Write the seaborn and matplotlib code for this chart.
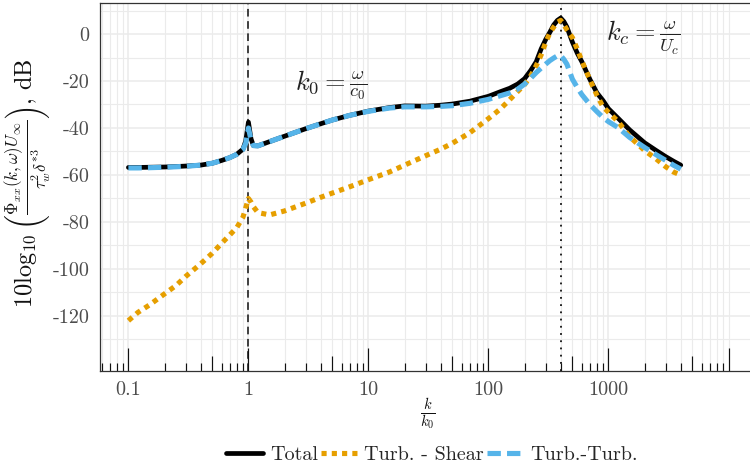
import numpy as np
import pandas as pd
import matplotlib
matplotlib.use("Agg")
import matplotlib.pyplot as plt
from matplotlib.lines import Line2D
from matplotlib.ticker import FixedLocator, FixedFormatter, NullFormatter
import seaborn as sns

# wavenumber ratio k/k0
k_ratio = [0.1, 0.12, 0.15, 0.2, 0.25, 0.3, 0.4, 0.5, 0.6, 0.7, 0.8, 0.9, 0.95,
           1.0, 1.05, 1.1, 1.2, 1.5, 2, 3, 4, 5, 7, 10, 15, 20, 30, 40, 50, 70,
           100, 125, 150, 175, 200, 225, 250, 275, 300, 325, 350, 375, 400, 425,
           450, 500, 550, 600, 700, 800, 900, 1000, 1200, 1500, 2000, 2500,
           3000, 3500, 4000]

# spectrum levels in dB
total_db = [-56.8, -56.8, -56.7, -56.6, -56.4, -56.2, -55.8, -55.0, -53.8, -52.6,
            -51.2, -49.0, -45.5, -37.5, -44.5, -47.5, -47.6, -45.8, -43.5, -40.3,
            -38.2, -36.6, -34.6, -32.8, -31.3, -30.6, -30.7, -30.3, -29.8, -28.6,
            -26.5, -24.6, -23.1, -21.3, -19.0, -15.5, -11.8, -6.3, -2.3, 0.8,
            3.9, 5.8, 6.8, 5.3, 3.0, -3.4, -8.2, -11.8, -19.3, -25.0,
            -28.3, -31.8, -35.8, -40.8, -46.3, -49.6, -52.2, -54.2, -55.8]

turb_shear_db = [-122.0, -118.5, -115.3, -110.6, -107.0, -103.2, -97.8, -93.3, -89.0, -85.5,
                 -82.4, -78.0, -74.0, -70.0, -71.5, -73.5, -76.0, -77.0, -75.3, -72.0,
                 -69.5, -67.7, -65.0, -62.0, -58.7, -55.8, -51.8, -49.0, -46.5, -42.0,
                 -36.0, -32.0, -28.0, -24.5, -21.5, -17.8, -13.5, -8.8, -3.5, 0.5,
                 3.0, 5.0, 5.8, 4.0, 1.8, -1.5, -6.5, -11.5, -19.5, -26.0,
                 -31.0, -33.3, -37.2, -43.7, -49.6, -53.2, -56.5, -58.8, -60.0]

turb_turb_db = [-57.0, -57.0, -56.9, -56.7, -56.5, -56.3, -55.8, -55.0, -53.8, -52.6,
                -51.2, -49.2, -46.5, -40.0, -45.0, -47.5, -47.6, -45.8, -43.5, -40.3,
                -38.2, -36.6, -34.6, -32.9, -31.5, -31.0, -31.0, -30.8, -30.5, -29.5,
                -27.8, -26.3, -25.1, -23.5, -21.3, -18.8, -16.4, -14.5, -12.8, -11.3,
                -10.2, -9.3, -9.2, -10.8, -12.8, -19.2, -22.8, -25.8, -30.0, -33.0,
                -35.5, -37.3, -39.8, -44.0, -48.3, -51.4, -53.8, -55.9, -57.5]

series_names = ["Total", "Turb. - Shear", "Turb.-Turb."]
x_tick_values = [0.1, 1, 10, 100, 1000]
x_tick_labels = ["0.1", "1", "10", "100", "1000"]
y_tick_values = [-120, -100, -80, -60, -40, -20, 0]
y_tick_labels = ["-120", "-100", "-80", "-60", "-40", "-20", "0"]
k0_line = 1.0
kc_line = 400.0

sns.set_style("white")
plt.rcParams["font.family"] = ["cmr10", "DejaVu Serif"]
plt.rcParams["mathtext.fontset"] = "cm"
plt.rcParams["axes.unicode_minus"] = False
plt.rcParams["axes.formatter.use_mathtext"] = True

df = pd.DataFrame({"k": k_ratio, "total": total_db,
                   "ts": turb_shear_db, "tt": turb_turb_db})

W, H = 750, 471
fig = plt.figure(figsize=(W / 100, H / 100), dpi=100)
ax = fig.add_axes([100 / W, 1 - 370.7 / H, 1 - 100 / W, (370.7 - 3) / H])

black = "#000000"
orange = "#E69F00"
blue = "#56B4E9"

lw_main = 3.4
sns.lineplot(data=df, x="k", y="total", ax=ax, color=black, lw=lw_main,
             estimator=None, sort=False, zorder=3)
sns.lineplot(data=df, x="k", y="ts", ax=ax, color=orange, lw=3.7,
             linestyle=(0, (1, 1)), dash_capstyle="butt",
             estimator=None, sort=False, zorder=4)
sns.lineplot(data=df, x="k", y="tt", ax=ax, color=blue, lw=3.7,
             linestyle=(0, (2.6, 1.2)), dash_capstyle="butt",
             estimator=None, sort=False, zorder=5)

ax.set_xscale("log")
ax.set_xlim(0.058, 15100)
ax.set_ylim(-143.3, 13.2)

# reference wavenumbers
ax.axvline(k0_line, color="#111111", lw=1.1, linestyle=(0, (5, 3)), zorder=2)
ax.axvline(kc_line, color="#111111", lw=1.3, linestyle=(0, (1, 3)), zorder=2)

ax.text(4.87, -21.7, r"$k_0 = \frac{\omega}{c_0}$", ha="center", va="center",
        fontsize=19, color="#222222")
ax.text(1940, -1.7, r"$k_c = \frac{\omega}{U_c}$", ha="center", va="center",
        fontsize=19, color="#222222")

# ticks and grid
minor_x = [m * 10.0 ** e for e in range(-2, 5) for m in range(2, 10)]
minor_x += [0.01, 10000]
ax.xaxis.set_major_locator(FixedLocator(x_tick_values))
ax.xaxis.set_major_formatter(FixedFormatter(x_tick_labels))
ax.xaxis.set_minor_locator(FixedLocator(minor_x))
ax.xaxis.set_minor_formatter(NullFormatter())
ax.yaxis.set_major_locator(FixedLocator(y_tick_values))
ax.yaxis.set_major_formatter(FixedFormatter(y_tick_labels))
ax.yaxis.set_minor_locator(FixedLocator(list(range(-130, 20, 20))))

ax.grid(True, which="major", color="#EBEBEB", lw=1.1, zorder=0)
ax.grid(True, which="minor", color="#EBEBEB", lw=0.8, zorder=0)
ax.set_axisbelow(True)

ax.tick_params(axis="both", which="major", direction="out", length=5.8,
               width=0.8, color="#333333", labelcolor="#4D4D4D",
               labelsize=14.5, pad=2)
ax.tick_params(axis="both", which="minor", length=0)

for side in ["left", "bottom", "top"]:
    ax.spines[side].set_color("#333333")
    ax.spines[side].set_linewidth(0.9)
ax.spines["right"].set_visible(False)

# log tick marks along the bottom of the panel
panel_h = 370.7 - 3
xt = ax.get_xaxis_transform()
for e in range(-2, 5):
    for m in range(1, 10):
        v = m * 10.0 ** e
        if not (0.058 < v < 15100):
            continue
        if m == 1:
            L = 22.5
        elif m == 5:
            L = 15
        else:
            L = 7.5
        ax.plot([v, v], [0, L / panel_h], transform=xt, color="#111111",
                lw=0.85, solid_capstyle="butt", zorder=2, clip_on=False)

ax.set_xlabel(r"$\frac{k}{k_0}$", fontsize=15, color="#111111", va="center")
ax.xaxis.set_label_coords((428 - 100) / 650, (370.7 - 414) / panel_h)
ax.set_ylabel(r"$10\log_{10}\left(\frac{\Phi_{xx}(k,\omega)U_\infty}{\tau_w^2\delta^{*3}}\right)$, dB",
              fontsize=17.5, color="#111111", va="center")
ax.yaxis.set_label_coords((29 - 100) / 650, (370.7 - 183) / panel_h)

handles = [
    Line2D([], [], color=black, lw=lw_main),
    Line2D([], [], color=orange, lw=3.7, linestyle=(0, (1, 1)), dash_capstyle="butt"),
    Line2D([], [], color=blue, lw=3.7, linestyle=(0, (2.6, 1.2)), dash_capstyle="butt"),
]
fig.legend(handles, series_names, loc="center", bbox_to_anchor=(432 / W, 1 - 455 / H),
           ncol=3, frameon=False, handlelength=1.8, handletextpad=0.35,
           columnspacing=0.15, fontsize=14.5, borderaxespad=0)

fig.savefig("out.png", dpi=100)
